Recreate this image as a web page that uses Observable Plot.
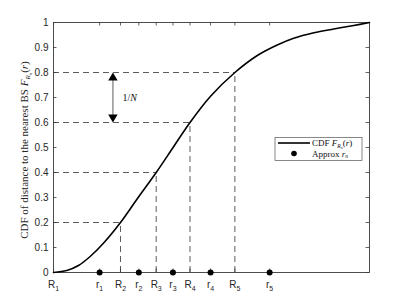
<!DOCTYPE html>
<html><head><meta charset="utf-8">
<script src="https://cdn.jsdelivr.net/npm/d3@7"></script>
<script src="https://cdn.jsdelivr.net/npm/@observablehq/plot@0.6"></script>
<style>
body{margin:0;background:#fff;}
#chart{width:408px;height:306px;}
</style></head><body><div id="chart"></div>
<script>
// CDF curve samples (r normalised 0..1, F)
const cdfR = [0, 0.042, 0.079, 0.116, 0.158, 0.212, 0.264, 0.325, 0.381, 0.432, 0.497, 0.574, 0.645, 0.708, 0.76, 0.824, 0.887, 0.95, 1];
const cdfF = [0, 0.008, 0.028, 0.064, 0.117, 0.20, 0.293, 0.40, 0.505, 0.60, 0.705, 0.80, 0.868, 0.91, 0.937, 0.959, 0.974, 0.988, 1];
// quantile boundaries R_n and levels
const bigRNames = ["R_1", "R_2", "R_3", "R_4", "R_5"];
const bigR = [0, 0.212, 0.325, 0.432, 0.574];
const levels = [0, 0.2, 0.4, 0.6, 0.8];
// approximated r_n
const smallRNames = ["r_1", "r_2", "r_3", "r_4", "r_5"];
const smallR = [0.146, 0.270, 0.378, 0.497, 0.684];
const yTicks = [0, 0.1, 0.2, 0.3, 0.4, 0.5, 0.6, 0.7, 0.8, 0.9, 1];
// 1/N arrow
const arrowX = 0.188;
const arrowFrom = 0.6, arrowTo = 0.8;

const curve = cdfR.map((r, i) => ({r, f: cdfF[i]}));
const xTicks = [...bigR, ...smallR];
const xNames = [...bigRNames, ...smallRNames];
const labelOf = new Map(xTicks.map((v, i) => [v, xNames[i]]));
const guides = bigR.map((r, i) => ({r, f: levels[i]})).slice(1);

const frameCol = "#3a3a3a";
const tx = 0.011, ty = 0.014;

const plot = Plot.plot({
  width: 408, height: 306,
  marginLeft: 53, marginRight: 39, marginTop: 22, marginBottom: 34,
  x: {domain: [0, 1]},
  y: {domain: [0, 1]},
  style: {fontFamily: "'Liberation Sans', Arial, sans-serif", fontSize: "10px", color: "#262626", background: "#fff"},
  marks: [
    Plot.ruleY(guides, {y: "f", x1: 0, x2: "r", stroke: "#333", strokeWidth: 0.8, strokeDasharray: "6,4"}),
    Plot.ruleX(guides, {x: "r", y1: 0, y2: "f", stroke: "#333", strokeWidth: 0.8, strokeDasharray: "6,4"}),
    // inward ticks
    Plot.ruleX(xTicks, {x: d => d, y1: 0, y2: ty, stroke: frameCol, strokeWidth: 0.8}),
    Plot.ruleX(xTicks, {x: d => d, y1: 1 - ty, y2: 1, stroke: frameCol, strokeWidth: 0.8}),
    Plot.ruleY(yTicks, {y: d => d, x1: 0, x2: tx, stroke: frameCol, strokeWidth: 0.8}),
    Plot.ruleY(yTicks, {y: d => d, x1: 1 - tx, x2: 1, stroke: frameCol, strokeWidth: 0.8}),
    Plot.frame({stroke: frameCol, strokeWidth: 0.9}),
    Plot.axisX(xTicks, {tickSize: 0, tickPadding: 8, tickFormat: d => labelOf.get(d), label: null, fontSize: 10}),
    Plot.axisY(yTicks, {tickSize: 0, tickPadding: 5, tickFormat: d => String(+d.toFixed(1)), label: null, fontSize: 10}),
    // double arrow 1/N
    Plot.ruleX([arrowX], {x: d => d, y1: arrowFrom + 0.02, y2: arrowTo - 0.02, stroke: "#999", strokeWidth: 1.6}),
    Plot.dot([arrowX], {x: d => d, y: arrowTo, symbol: "triangle2", r: 4.5, fill: "black", stroke: "none", dy: 5.4}),
    Plot.dot([arrowX], {x: d => d, y: arrowFrom, symbol: "triangle2", r: 4.5, fill: "black", stroke: "none", rotate: 180, dy: -5.4}),
    Plot.line(curve, {x: "r", y: "f", curve: "catmull-rom", stroke: "black", strokeWidth: 1.6}),
    Plot.dot(smallR, {x: d => d, y: 0, r: 3, fill: "black", stroke: "none", clip: false})
  ]
});
document.getElementById("chart").appendChild(plot);

const svg = d3.select(plot);
// subscripts on x tick labels
svg.selectAll('g[aria-label="x-axis tick label"] text').each(function() {
  const t = d3.select(this);
  const s = t.text();
  const [base, sub] = s.split("_");
  t.text(null);
  t.append("tspan").text(base);
  t.append("tspan").attr("font-size", 7).attr("dy", 3).text(sub);
});

const serif = "'Liberation Serif', 'Times New Roman', serif";
// y-axis label
const yl = svg.append("text")
  .attr("transform", "translate(27.5,150) rotate(-90)")
  .attr("text-anchor", "middle")
  .attr("font-family", serif).attr("font-size", 11).attr("fill", "#262626");
yl.append("tspan").text("CDF of distance to the nearest BS ");
yl.append("tspan").attr("font-style", "italic").text("F");
yl.append("tspan").attr("font-style", "italic").attr("font-size", 7).attr("dy", 2.5).text("R");
yl.append("tspan").attr("font-style", "italic").attr("font-size", 5).attr("dy", 1.5).text("n");
yl.append("tspan").attr("dy", -4).text("(");
yl.append("tspan").attr("font-style", "italic").text("r");
yl.append("tspan").text(")");

// 1/N label
const sx = plot.scale("x"), sy = plot.scale("y");
const nl = svg.append("text")
  .attr("x", sx.apply(arrowX) + 10).attr("y", sy.apply((arrowFrom + arrowTo) / 2) + 3.5)
  .attr("text-anchor", "start")
  .attr("font-family", serif).attr("font-size", 10).attr("fill", "#111");
nl.append("tspan").text("1/");
nl.append("tspan").attr("font-style", "italic").text("N");

// legend
const lg = svg.append("g").attr("font-family", serif).attr("font-size", 9).attr("fill", "#111")
  .attr("text-anchor", "start");
lg.append("rect").attr("x", 275).attr("y", 137.5).attr("width", 87).attr("height", 23)
  .attr("fill", "white").attr("stroke", "#555").attr("stroke-width", 0.7);
lg.append("line").attr("x1", 278).attr("x2", 310).attr("y1", 143).attr("y2", 143)
  .attr("stroke", "black").attr("stroke-width", 1.6);
const l1 = lg.append("text").attr("x", 312).attr("y", 146);
l1.append("tspan").text("CDF ");
l1.append("tspan").attr("font-style", "italic").text("F");
l1.append("tspan").attr("font-style", "italic").attr("font-size", 5.5).attr("dy", 2).text("R");
l1.append("tspan").attr("font-style", "italic").attr("font-size", 4).attr("dy", 1).text("n");
l1.append("tspan").attr("dy", -3).text("(");
l1.append("tspan").attr("font-style", "italic").text("r");
l1.append("tspan").text(")");
lg.append("circle").attr("cx", 294).attr("cy", 153.5).attr("r", 2.8).attr("fill", "black");
const l2 = lg.append("text").attr("x", 312).attr("y", 156.5);
l2.append("tspan").text("Approx ");
l2.append("tspan").attr("font-style", "italic").text("r");
l2.append("tspan").attr("font-style", "italic").attr("font-size", 5.5).attr("dy", 1.5).text("n");
</script>
</body></html>
